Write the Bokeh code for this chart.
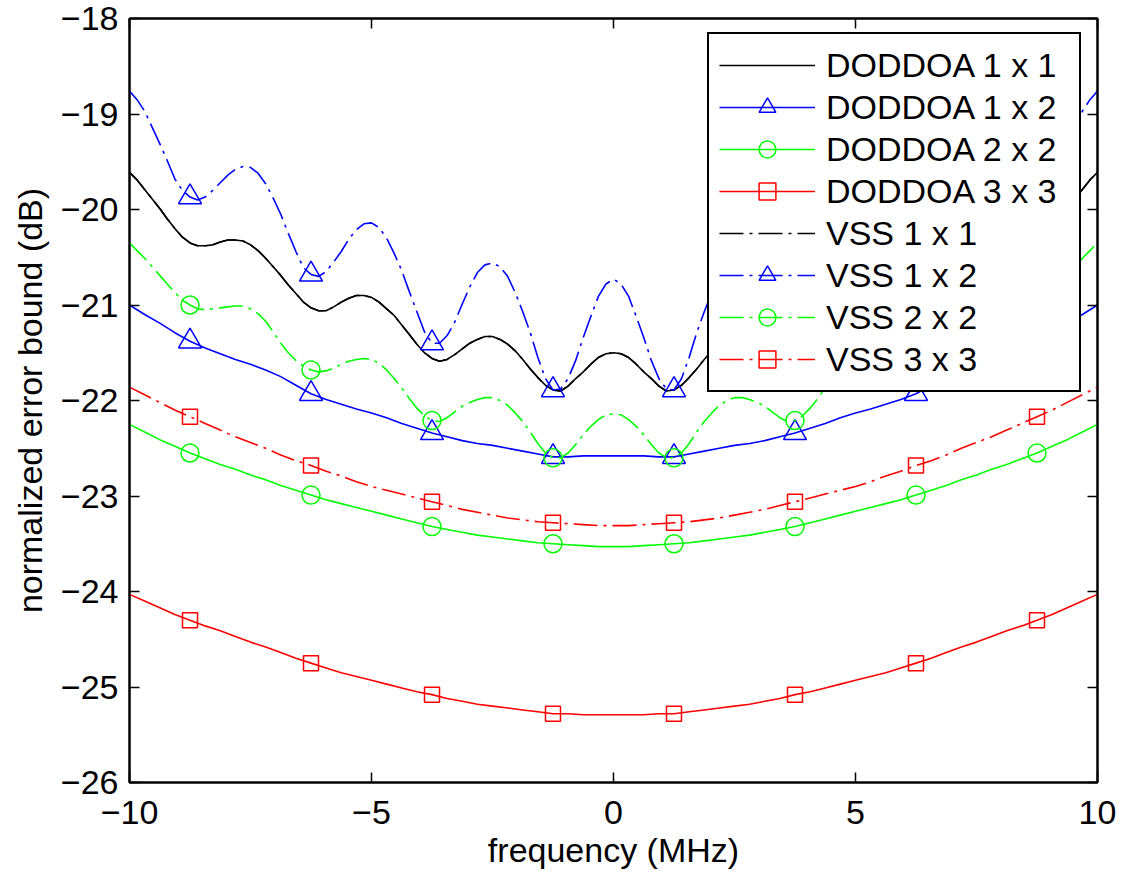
import numpy as np
from bokeh.plotting import figure
from bokeh.models import FixedTicker, LinearAxis, Legend, LegendItem, Range1d
from bokeh.embed import file_html
from bokeh.resources import INLINE

# frequency grids (MHz): coarse for the smooth bowls, fine for the rippled curves
freq_coarse = np.linspace(-10, 10, 65)
freq_fine = np.linspace(-10, 10, 129)

doddoa_1x1 = [-19.61, -19.69, -19.79, -19.89, -19.99, -20.10, -20.20, -20.29, -20.35, -20.38,
              -20.38, -20.37, -20.34, -20.32, -20.32, -20.33, -20.37, -20.43, -20.51, -20.60,
              -20.69, -20.79, -20.88, -20.97, -21.03, -21.06, -21.06, -21.02, -20.97, -20.93,
              -20.90, -20.90, -20.92, -20.97, -21.04, -21.11, -21.21, -21.31, -21.41, -21.50,
              -21.56, -21.59, -21.57, -21.52, -21.46, -21.40, -21.36, -21.33, -21.33, -21.36,
              -21.41, -21.48, -21.57, -21.67, -21.76, -21.84, -21.89, -21.90, -21.85, -21.77,
              -21.70, -21.62, -21.55, -21.51, -21.50,
              -21.51, -21.55, -21.62, -21.70, -21.77, -21.85, -21.90, -21.89, -21.84, -21.76,
              -21.67, -21.57, -21.48, -21.41, -21.36, -21.33, -21.33, -21.36, -21.40, -21.46,
              -21.52, -21.57, -21.59, -21.56, -21.50, -21.41, -21.31, -21.21, -21.11, -21.04,
              -20.97, -20.92, -20.90, -20.90, -20.93, -20.97, -21.02, -21.06, -21.06, -21.03,
              -20.97, -20.88, -20.79, -20.69, -20.60, -20.51, -20.43, -20.37, -20.33, -20.32,
              -20.32, -20.34, -20.37, -20.38, -20.38, -20.35, -20.29, -20.20, -20.10, -19.99,
              -19.89, -19.79, -19.69, -19.61]

doddoa_1x2 = [-21.00, -21.10, -21.19, -21.29, -21.38, -21.45, -21.51, -21.57, -21.62, -21.68, -21.75,
              -21.84, -21.93, -21.99, -22.04, -22.09, -22.13, -22.18, -22.24, -22.29, -22.34, -22.38,
              -22.42, -22.45, -22.47, -22.50, -22.53, -22.56, -22.59, -22.59, -22.58, -22.58, -22.58,
              -22.58, -22.58, -22.59, -22.59, -22.56, -22.53, -22.50, -22.47, -22.45, -22.42, -22.38,
              -22.34, -22.29, -22.24, -22.18, -22.13, -22.09, -22.04, -21.99, -21.93, -21.84, -21.75,
              -21.68, -21.62, -21.57, -21.51, -21.45, -21.38, -21.29, -21.19, -21.10, -21.00]

doddoa_2x2 = [-22.25, -22.33, -22.41, -22.48, -22.55, -22.61, -22.67, -22.72, -22.78, -22.83, -22.89,
              -22.94, -22.99, -23.04, -23.08, -23.12, -23.16, -23.20, -23.24, -23.28, -23.32, -23.35,
              -23.38, -23.41, -23.43, -23.45, -23.47, -23.49, -23.50, -23.51, -23.52, -23.53, -23.53,
              -23.53, -23.52, -23.51, -23.50, -23.49, -23.47, -23.45, -23.43, -23.41, -23.38, -23.35,
              -23.32, -23.28, -23.24, -23.20, -23.16, -23.12, -23.08, -23.04, -22.99, -22.94, -22.89,
              -22.83, -22.78, -22.72, -22.67, -22.61, -22.55, -22.48, -22.41, -22.33, -22.25]

doddoa_3x3 = [-24.03, -24.10, -24.17, -24.24, -24.30, -24.36, -24.41, -24.47, -24.53, -24.58, -24.64,
              -24.70, -24.75, -24.80, -24.85, -24.89, -24.93, -24.97, -25.01, -25.05, -25.08, -25.12,
              -25.15, -25.18, -25.20, -25.22, -25.24, -25.26, -25.28, -25.28, -25.29, -25.29, -25.29,
              -25.29, -25.29, -25.28, -25.28, -25.26, -25.24, -25.22, -25.20, -25.18, -25.15, -25.12,
              -25.08, -25.05, -25.01, -24.97, -24.93, -24.89, -24.85, -24.80, -24.75, -24.70, -24.64,
              -24.58, -24.53, -24.47, -24.41, -24.36, -24.30, -24.24, -24.17, -24.10, -24.03]

# VSS 1 x 1 lies exactly on DODDOA 1 x 1 in the figure
vss_1x1 = list(doddoa_1x1)

vss_1x2 = [-18.76, -18.85, -18.97, -19.14, -19.31, -19.49, -19.68, -19.80, -19.87, -19.90,
           -19.87, -19.80, -19.72, -19.64, -19.58, -19.55, -19.56, -19.62, -19.73, -19.88,
           -20.05, -20.25, -20.44, -20.61, -20.68, -20.70, -20.65, -20.55, -20.44, -20.31,
           -20.21, -20.15, -20.14, -20.19, -20.30, -20.46, -20.64, -20.86, -21.07, -21.28,
           -21.40, -21.40, -21.32, -21.18, -20.99, -20.81, -20.66, -20.58, -20.56, -20.60,
           -20.70, -20.87, -21.07, -21.29, -21.55, -21.77, -21.89, -21.88, -21.77, -21.58,
           -21.34, -21.12, -20.91, -20.78, -20.73,
           -20.78, -20.91, -21.12, -21.34, -21.58, -21.77, -21.88, -21.89, -21.77, -21.55,
           -21.29, -21.07, -20.87, -20.70, -20.60, -20.56, -20.58, -20.66, -20.81, -20.99,
           -21.18, -21.32, -21.40, -21.40, -21.28, -21.07, -20.86, -20.64, -20.46, -20.30,
           -20.19, -20.14, -20.15, -20.21, -20.31, -20.44, -20.55, -20.65, -20.70, -20.68,
           -20.61, -20.44, -20.25, -20.05, -19.88, -19.73, -19.62, -19.56, -19.55, -19.58,
           -19.64, -19.72, -19.80, -19.87, -19.90, -19.87, -19.80, -19.68, -19.49, -19.31,
           -19.14, -18.97, -18.85, -18.76]

vss_2x2 = [-20.35, -20.43, -20.51, -20.60, -20.69, -20.78, -20.87, -20.95, -21.00, -21.04,
           -21.05, -21.04, -21.03, -21.02, -21.01, -21.01, -21.04, -21.09, -21.17, -21.28,
           -21.40, -21.50, -21.58, -21.64, -21.68, -21.70, -21.69, -21.66, -21.62, -21.59,
           -21.57, -21.56, -21.57, -21.61, -21.68, -21.77, -21.87, -21.98, -22.08, -22.16,
           -22.21, -22.22, -22.18, -22.12, -22.06, -22.02, -21.99, -21.97, -21.97, -22.00,
           -22.05, -22.13, -22.22, -22.33, -22.45, -22.55, -22.60, -22.60, -22.55, -22.46,
           -22.36, -22.27, -22.20, -22.15, -22.14,
           -22.15, -22.20, -22.27, -22.36, -22.46, -22.55, -22.60, -22.60, -22.55, -22.45,
           -22.33, -22.22, -22.13, -22.05, -22.00, -21.97, -21.97, -21.99, -22.02, -22.06,
           -22.12, -22.18, -22.22, -22.21, -22.16, -22.08, -21.98, -21.87, -21.77, -21.68,
           -21.61, -21.57, -21.56, -21.57, -21.59, -21.62, -21.66, -21.69, -21.70, -21.68,
           -21.64, -21.58, -21.50, -21.40, -21.28, -21.17, -21.09, -21.04, -21.01, -21.01,
           -21.02, -21.03, -21.04, -21.05, -21.04, -21.00, -20.95, -20.87, -20.78, -20.69,
           -20.60, -20.51, -20.43, -20.35]

vss_3x3 = [-21.86, -21.94, -22.02, -22.10, -22.17, -22.24, -22.31, -22.38, -22.44, -22.50, -22.57,
           -22.63, -22.68, -22.74, -22.79, -22.85, -22.90, -22.94, -22.98, -23.02, -23.06, -23.10,
           -23.14, -23.17, -23.20, -23.23, -23.25, -23.27, -23.28, -23.29, -23.30, -23.31, -23.31,
           -23.31, -23.30, -23.29, -23.28, -23.27, -23.25, -23.23, -23.20, -23.17, -23.14, -23.10,
           -23.06, -23.02, -22.98, -22.94, -22.90, -22.85, -22.79, -22.74, -22.68, -22.63, -22.57,
           -22.50, -22.44, -22.38, -22.31, -22.24, -22.17, -22.10, -22.02, -21.94, -21.86]

series_labels = ["DODDOA 1 x 1", "DODDOA 1 x 2", "DODDOA 2 x 2", "DODDOA 3 x 3",
                 "VSS 1 x 1", "VSS 1 x 2", "VSS 2 x 2", "VSS 3 x 3"]
series_values = [doddoa_1x1, doddoa_1x2, doddoa_2x2, doddoa_3x3,
                 vss_1x1, vss_1x2, vss_2x2, vss_3x3]
series_colors = ["#000000", "#0000FF", "#00FF00", "#FF0000",
                 "#000000", "#0000FF", "#00FF00", "#FF0000"]
series_dash = ["solid", "solid", "solid", "solid",
               "24 6 3 6", "24 6 3 6", "24 6 3 6", "24 6 3 6"]
series_marker = [None, "triangle", "circle", "square",
                 None, "triangle", "circle", "square"]
marker_sizes = {"triangle": 23, "circle": 18, "square": 15}
# markers sit at +-1.25, +-3.75, +-6.25, +-8.75 MHz
marker_freqs = [-8.75, -6.25, -3.75, -1.25, 1.25, 3.75, 6.25, 8.75]

x_ticks = [-10, -5, 0, 5, 10]
y_ticks = [-26, -25, -24, -23, -22, -21, -20, -19, -18]

FONT = "Liberation Sans"
FS = "34px"


def tick_text(v):
    return ("\u2212" + str(abs(v))) if v < 0 else str(v)


p = figure(frame_width=968, frame_height=764,
           min_border_left=129, min_border_top=18, min_border_right=25, min_border_bottom=94,
           x_range=Range1d(-10, 10), y_range=Range1d(-26, -18),
           output_backend="svg", toolbar_location=None,
           background_fill_color="white", border_fill_color="white")
p.xgrid.visible = False
p.ygrid.visible = False
p.outline_line_color = "black"
p.outline_line_width = 2
p.outline_line_alpha = 1.0

p.xaxis.ticker = FixedTicker(ticks=x_ticks)
p.yaxis.ticker = FixedTicker(ticks=y_ticks)
p.xaxis.major_label_overrides = {v: tick_text(v) for v in x_ticks}
p.yaxis.major_label_overrides = {v: tick_text(v) for v in y_ticks}
p.xaxis.axis_label = "frequency (MHz)"
p.yaxis.axis_label = "normalized error bound (dB)"

for ax in (p.xaxis[0], p.yaxis[0]):
    ax.axis_line_width = 2
    ax.axis_line_color = "black"
    ax.major_tick_in = 10
    ax.major_tick_out = 0
    ax.major_tick_line_width = 1.5
    ax.minor_tick_line_color = None
    ax.major_label_text_font = FONT
    ax.major_label_text_font_size = FS
    ax.major_label_text_color = "black"
    ax.axis_label_text_font = FONT
    ax.axis_label_text_font_size = FS
    ax.axis_label_text_font_style = "normal"
    ax.axis_label_text_color = "black"

p.xaxis.major_label_standoff = 18
p.xaxis.axis_label_standoff = 4
p.yaxis.major_label_standoff = 11
p.yaxis.axis_label_standoff = 9

# mirrored ticks on top and right (MATLAB box)
top_ax = LinearAxis(ticker=FixedTicker(ticks=x_ticks))
right_ax = LinearAxis(ticker=FixedTicker(ticks=y_ticks))
for ax in (top_ax, right_ax):
    ax.axis_line_width = 2
    ax.major_tick_in = 10
    ax.major_tick_out = 0
    ax.major_tick_line_width = 1.5
    ax.minor_tick_line_color = None
    ax.major_label_text_font_size = "1px"
    ax.major_label_text_color = None
    ax.major_label_standoff = 0
p.add_layout(top_ax, "above")
p.add_layout(right_ax, "right")

items = []
for lab, vals, col, dash, mk in zip(series_labels, series_values, series_colors,
                                    series_dash, series_marker):
    y = np.array(vals)
    x = freq_fine if len(vals) == len(freq_fine) else freq_coarse
    rs = [p.line(x, y, line_color=col, line_width=1.6, line_dash=dash)]
    if mk is not None:
        idx = [int(np.argmin(np.abs(x - f))) for f in marker_freqs]
        rs.append(p.scatter(x[idx], y[idx], marker=mk, size=marker_sizes[mk],
                            line_color=col, fill_color=None, line_width=1.5))
    items.append(LegendItem(label=lab, renderers=rs))

legend = Legend(items=items, location=(578, 390),
                label_text_font=FONT, label_text_font_size=FS, label_text_color="black",
                glyph_width=96, glyph_height=42, label_height=42, label_width=243,
                label_standoff=11, spacing=0, padding=10, margin=0,
                border_line_color="black", border_line_width=2, border_line_alpha=1.0,
                background_fill_color="white", background_fill_alpha=1.0)
p.add_layout(legend, "center")

html = file_html(p, INLINE)
with open("out.html", "w") as f:
    f.write(html)
